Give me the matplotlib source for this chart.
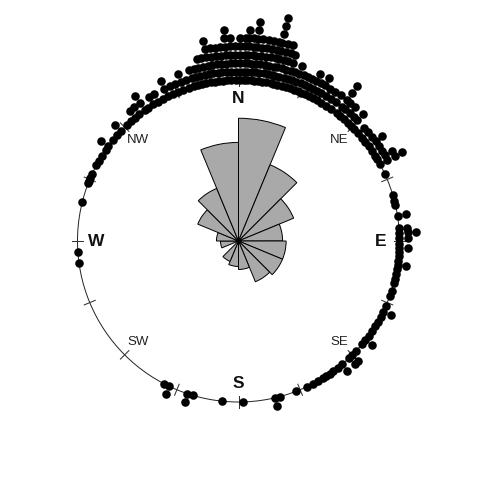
import numpy as np
import matplotlib
matplotlib.use("Agg")
import matplotlib.pyplot as plt
from matplotlib.patches import Wedge, Circle

# ---- data: observed wind directions (bearing in degrees, clockwise from N)
# each entry: direction bin and number of stacked observations in it
stack_bearing = [
    0.5, 2, 3, 4.5, 5.5, 7, 8.5, 10, 11.5, 12.5, 14, 15.5, 17, 18.5, 20, 21.5,
    23, 24.5, 26, 27.5, 29, 31, 33, 35, 37.5, 39, 41, 43, 44.5,
    46, 48, 50, 52, 54, 56, 58, 59.5, 61.5, 65.5,
    73.5, 75.5, 77, 81, 85.5, 87, 89,
    91, 92.5, 94, 95.5, 97, 98.5, 100, 102, 103.5, 105, 108, 110,
    114, 116, 118, 120, 122, 124, 126, 128, 130, 133,
    135, 136.5, 140, 142, 144, 145.5, 147, 148.5, 150.5, 152.5, 155,
    159, 165, 167, 178.5,
    186, 196.5, 198.5,
    205.5, 207.5,
    262, 266,
    284, 291, 292,
    293, 294.5, 298, 300, 302, 304.5, 306, 309, 311, 313,
    316, 318, 320, 322, 324.5, 326, 328, 330, 332, 334, 336,
    338, 340, 342, 344, 345.5, 347, 348.5, 350, 351.5, 353, 354.5, 356, 357.5, 359,
]
stack_count = [
    6, 6, 7, 6, 8, 6, 6, 6, 6, 9, 6, 6, 5, 3, 4, 3,
    3, 3, 4, 3, 4, 3, 3, 3, 5, 3, 3, 2, 3,
    1, 2, 2, 2, 3, 2, 2, 3, 4, 1,
    1, 1, 1, 2, 2, 3, 2,
    1, 2, 1, 1, 1, 2, 1, 1, 1, 1, 1, 1,
    1, 2, 1, 1, 1, 1, 1, 2, 1, 1,
    2, 2, 2, 1, 1, 1, 1, 1, 1, 1, 1,
    1, 1, 2, 1,
    1, 1, 2,
    2, 1,
    1, 1,
    1, 1, 1,
    1, 1, 1, 1, 1, 1, 2, 1, 1, 2,
    1, 1, 2, 2, 3, 1, 2, 2, 1, 3, 2,
    2, 3, 2, 3, 3, 4, 4, 6, 5, 5, 5, 7, 6, 5,
]
axis_labels = ["N", "NE", "E", "SE", "S", "SW", "W", "NW"]
axis_bearings = [0, 45, 90, 135, 180, 225, 270, 315]
n_rose_bins = 16

# ---- geometry / style
R_PX = 161.0
CX, CY = 238.5, 241.0
W = H = 480
sep = 0.0525          # stacking step (cex * sep)
prop = 1.41
tcl = 0.037
label_r = 0.885

fig = plt.figure(figsize=(4.8, 4.8), dpi=100)
ax = fig.add_axes([0, 0, 1, 1])
ax.set_xlim(-CX / R_PX, (W - CX) / R_PX)
ax.set_ylim(-(H - CY) / R_PX, CY / R_PX)
ax.set_aspect("equal")
ax.axis("off")


def xy(bearing, r):
    t = np.deg2rad(90 - np.asarray(bearing, dtype=float))
    return r * np.cos(t), r * np.sin(t)

# circle
ax.add_patch(Circle((0, 0), 1.0, fill=False, lw=0.7, ec="#222222", zorder=2))

# ticks every 22.5 degrees
for b in np.arange(0, 360, 22.5):
    x0, y0 = xy(b, 1 - tcl)
    x1, y1 = xy(b, 1 + tcl)
    ax.plot([x0, x1], [y0, y1], color="#333333", lw=0.75, zorder=2)

# labels
for lab, b in zip(axis_labels, axis_bearings):
    x, y = xy(b, label_r)
    if len(lab) == 1:
        ax.text(x, y, lab, ha="center", va="center", fontsize=12.5,
                fontweight="bold", family="Liberation Sans",
                color="#111111", zorder=3)
    else:
        ax.text(x, y, lab, ha="center", va="center", fontsize=9.5,
                family="Liberation Sans", color="#222222", zorder=3)

# stacked points
px, py = [], []
for b, c in zip(stack_bearing, stack_count):
    for j in range(c):
        x, y = xy(b, 1 + j * sep)
        px.append(x)
        py.append(y)
ax.scatter(px, py, s=38, c="black", linewidths=0, zorder=4)

# rose diagram computed from the same observations
n = sum(stack_count)
arc = 360.0 / n_rose_bins
freq = np.zeros(n_rose_bins)
for b, c in zip(stack_bearing, stack_count):
    i = max(int(np.ceil(b / arc)) - 1, 0)
    freq[i] += c
radius = np.sqrt(freq / n) * prop
for i in range(n_rose_bins):
    if radius[i] <= 0:
        continue
    b1, b2 = i * arc, (i + 1) * arc
    ax.add_patch(Wedge((0, 0), radius[i], 90 - b2, 90 - b1,
                       fc="#A9A9A9", ec="black", lw=0.7, zorder=5))

fig.savefig("out.png", dpi=100)
